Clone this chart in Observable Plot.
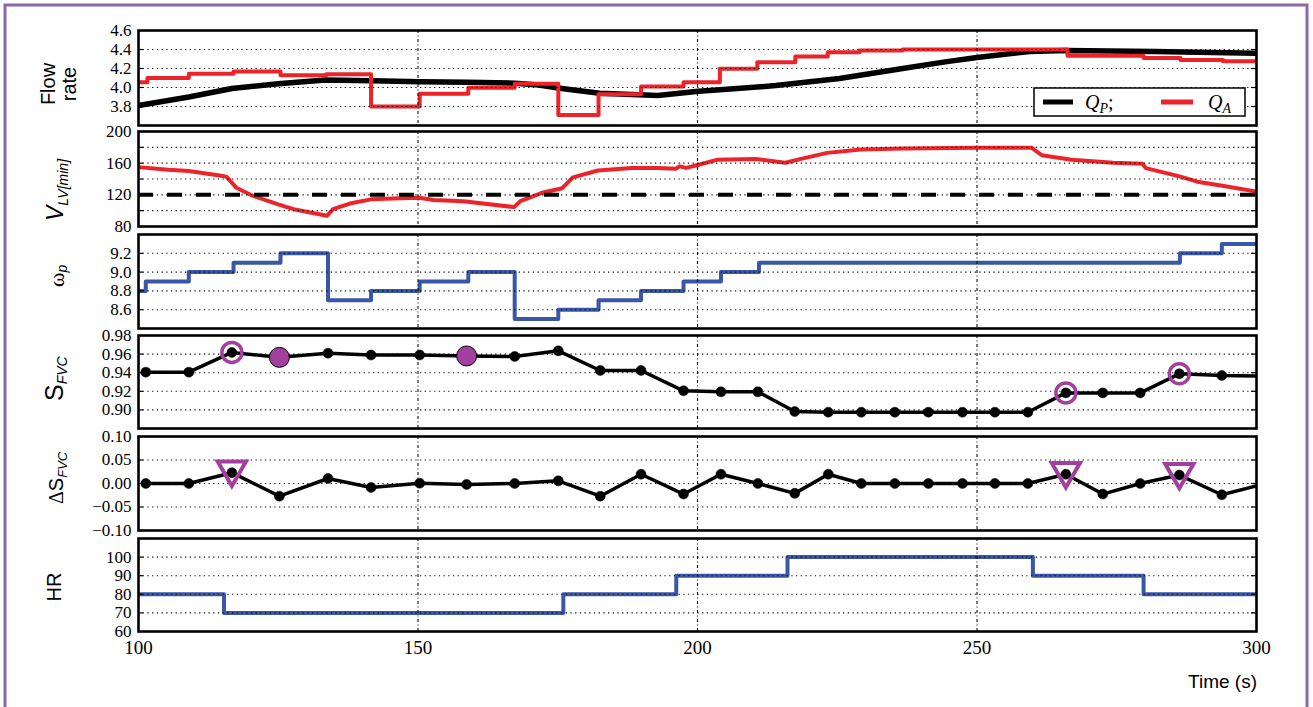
<!DOCTYPE html>
<html><head><meta charset="utf-8">
<script src="https://cdn.jsdelivr.net/npm/d3@7"></script>
<script src="https://cdn.jsdelivr.net/npm/@observablehq/plot@0.6"></script>
<style>
html,body{margin:0;padding:0;background:#fff;}
#wrap{position:relative;width:1313px;height:707px;overflow:hidden;background:#fff;}
#wrap svg{position:absolute;left:0;}
</style></head><body><div id="wrap"></div>
<script>
// ---------------- data ----------------
const xTicks = [100, 150, 200, 250, 300];
const xGrid = [150, 200, 250];

// Flow rate: pump flow Q_P (black) and aortic flow Q_A (red, step)
const qpT = [100,109,116.7,125,133.4,141.7,150.4,159,167.3,171,175.7,182.5,192.9,200.2,206.5,214,225.4,236.7,244.3,250,259.4,265.9,281.7,300];
const qpV = [3.81,3.90,3.99,4.04,4.08,4.07,4.06,4.056,4.045,4.03,3.99,3.94,3.916,3.96,3.986,4.02,4.095,4.20,4.27,4.316,4.38,4.39,4.38,4.36];
const qaT = [100,101.6,109,117,125.4,133.6,141.6,150.3,159,167.3,175.1,182.3,189.9,197.5,204,210.7,217.5,223.3,229,236.7,266.2,279.8,286.4,294,300];
const qaV = [4.056,4.10,4.144,4.168,4.13,4.14,3.80,3.933,3.997,4.04,3.71,3.93,4.01,4.056,4.197,4.267,4.326,4.372,4.39,4.40,4.335,4.31,4.29,4.277,4.277];

// V_LV[min]
const vT = [100,105.3,109,114.5,115.7,117.5,120.5,125,128,133.7,134.8,137.8,141.6,146.8,150.2,152.8,158.1,167.2,168.3,172.4,175.8,177.7,182.2,188.2,192.8,196.1,196.8,198,200.2,203.6,210.4,215.7,218.7,223.2,229.2,236.8,250,259.8,261.6,266.9,274.4,279.6,280.2,286.4,289.4,293.9,300];
const vV = [155,151.6,150,144.3,143,129,118.6,107.9,101.4,93.5,102,109,114.3,115.6,116.4,113.4,112,104.5,112,123,128.4,142,150.7,154,154,152.9,156,154,158,164.4,165.3,160.6,165.7,173,177.3,178.6,179.4,179.4,170,164.4,160.6,159.3,153.7,143,136.6,131.4,124.1];
const vRef = [120];

// omega_p (step)
const wT = [100,101.3,109,117,125.4,133.9,141.6,150.3,159,167.3,175.1,182.3,189.9,197.5,204.2,211,286.3,293.8,300];
const wV = [8.8,8.9,9.0,9.1,9.2,8.7,8.8,8.9,9.0,8.5,8.6,8.7,8.8,8.9,9.0,9.1,9.2,9.3,9.3];

// S_FVC and delta S_FVC (sample times)
const sT = [101.3,109,116.7,125.2,133.9,141.6,150.3,158.7,167.3,175.1,182.6,189.9,197.5,204.2,210.8,217.4,223.4,229.3,235.3,241.3,247.4,253.2,259.1,265.9,272.5,279.2,286.2,293.8];
const sV = [0.9406,0.9406,0.9618,0.9565,0.961,0.959,0.959,0.958,0.9575,0.9635,0.9424,0.9424,0.9205,0.9194,0.9194,0.8982,0.8975,0.8975,0.8975,0.8975,0.8975,0.8975,0.8975,0.9183,0.9183,0.9183,0.9388,0.937];
const sEnd = {t: 300, v: 0.9364};
const dV = [0,0,0.023,-0.027,0.0106,-0.0085,0.0007,-0.002,0,0.0056,-0.027,0.0197,-0.0225,0.0197,0,-0.021,0.0197,0,0,0,0,0,0,0.0197,-0.0225,0,0.018,-0.024];
const dEnd = {t: 300, v: -0.005};
const ringIdx = [2, 23, 26];      // hollow purple circles / triangles
const filledIdx = [3, 7];         // filled purple circles

// HR (step)
const hrT = [100,115.3,176,196.2,216.1,260,279.8,300];
const hrV = [80,70,80,90,100,90,80,80];

// ---------------- build ----------------
const BLUE = "#3a56a6", RED = "#ec2329", PURPLE = "#a2409f";
const W = 1313, ML = 138, MR = 57;
const rows = (T, V) => T.map((t, i) => ({t, v: V[i]}));
const qp = rows(qpT, qpV), qa = rows(qaT, qaV), vl = rows(vT, vV), wp = rows(wT, wV), hr = rows(hrT, hrV);
const sRows = rows(sT, sV), dRows = rows(sT, dV);
const f1 = d3.format(".1f"), f2 = d3.format(".2f"), f0 = d3.format("d");

const wrap = document.getElementById("wrap");

function panel(o) {
  const mt = 14, mb = o.last ? 46 : 10;
  const h = o.bottom - o.top + mt + mb;
  const marks = [
    ...o.under,
    Plot.ruleY(o.grid, {stroke: "#111", strokeWidth: 1.1, strokeDasharray: "1.3,3.4"}),
    Plot.ruleX(xGrid, {stroke: "#111", strokeWidth: 1.1, strokeDasharray: "3,2.5,1,2.5"}),
    Plot.ruleY(o.grid, {x1: 100, x2: 100.9, stroke: "#000", strokeWidth: 1.2}),
    Plot.ruleY(o.grid, {x1: 299.1, x2: 300, stroke: "#000", strokeWidth: 1.2}),
    ...(o.over || []),
    Plot.frame({stroke: "#000", strokeWidth: 2.6}),
    Plot.axisY(o.labels, {tickSize: 0, tickPadding: 7, tickFormat: o.fmt, label: null, fontSize: 17})
  ];
  if (o.last) marks.push(Plot.axisX(xTicks, {tickSize: 0, tickPadding: 9, tickFormat: f0, label: null, fontSize: 19}));
  const svg = Plot.plot({
    width: W, height: h, marginLeft: ML, marginRight: MR, marginTop: mt, marginBottom: mb,
    style: {fontFamily: "'Liberation Serif', serif", fontSize: "17px", background: "transparent", overflow: "visible", color: "#000"},
    x: o.last ? {domain: [100, 300]} : {domain: [100, 300], axis: null},
    y: {domain: o.domain},
    marks
  });
  svg.style.top = (o.top - mt) + "px";
  wrap.appendChild(svg);
}

// 1 Flow rate
panel({top: 30, bottom: 125, domain: [3.6, 4.6], grid: [3.8, 4.0, 4.2, 4.4], labels: [3.8, 4.0, 4.2, 4.4, 4.6], fmt: f1,
  under: [
    Plot.line(qp, {x: "t", y: "v", stroke: "#000", strokeWidth: 5.5, clip: true}),
    Plot.line(qa, {x: "t", y: "v", stroke: RED, strokeWidth: 4, curve: "step-after", clip: true})
  ]});
// 2 V_LV
panel({top: 131, bottom: 226, domain: [80, 200], grid: [100, 120, 140, 160, 180], labels: [80, 120, 160, 200], fmt: f0,
  under: [Plot.line(vl, {x: "t", y: "v", stroke: RED, strokeWidth: 4, clip: true})],
  over: [Plot.ruleY(vRef, {stroke: "#000", strokeWidth: 4, strokeDasharray: "15,14"})]});
// 3 omega_p
panel({top: 234, bottom: 328, domain: [8.4, 9.4], grid: [8.6, 8.8, 9.0, 9.2], labels: [8.6, 8.8, 9.0, 9.2], fmt: f1,
  under: [Plot.line(wp, {x: "t", y: "v", stroke: BLUE, strokeWidth: 4, curve: "step-after", clip: true})]});
// 4 S_FVC
panel({top: 335, bottom: 428, domain: [0.88, 0.98], grid: [0.90, 0.92, 0.94, 0.96], labels: [0.90, 0.92, 0.94, 0.96, 0.98], fmt: f2,
  under: [Plot.line([...sRows, sEnd], {x: "t", y: "v", stroke: "#000", strokeWidth: 3.5, clip: true})],
  over: [
    Plot.dot(ringIdx.map(i => sRows[i]), {x: "t", y: "v", r: 10, stroke: PURPLE, strokeWidth: 3.5, fill: "none"}),
    Plot.dot(sRows, {x: "t", y: "v", r: 5, fill: "#000", stroke: "#000", strokeWidth: 0.5}),
    Plot.dot(filledIdx.map(i => sRows[i]), {x: "t", y: "v", r: 10, fill: PURPLE, stroke: "#000", strokeWidth: 1})
  ]});
// 5 delta S_FVC
panel({top: 436, bottom: 530, domain: [-0.1, 0.1], grid: [-0.05, 0, 0.05], labels: [-0.10, -0.05, 0, 0.05, 0.10], fmt: f2,
  under: [Plot.line([...dRows, dEnd], {x: "t", y: "v", stroke: "#000", strokeWidth: 3.5, clip: true})],
  over: [
    Plot.dot(dRows, {x: "t", y: "v", r: 5, fill: "#000", stroke: "#000", strokeWidth: 0.5}),
    Plot.dot(ringIdx.map(i => dRows[i]), {x: "t", y: "v", r: 10.5, symbol: "triangle", rotate: 180, dy: -3, stroke: PURPLE, strokeWidth: 4, fill: "none"})
  ]});
// 6 HR
panel({top: 538, bottom: 631, domain: [60, 110], grid: [70, 80, 90, 100], labels: [60, 70, 80, 90, 100], fmt: f0, last: true,
  under: [Plot.line(hr, {x: "t", y: "v", stroke: BLUE, strokeWidth: 4, curve: "step-after", clip: true})]});

// ---------------- overlay: frame, axis titles, legend ----------------
const ov = d3.select(wrap).append("svg").attr("width", W).attr("height", 707).style("top", "0px").style("pointer-events", "none");
ov.append("rect").attr("x", 5).attr("y", 5).attr("width", 1302).attr("height", 740)
  .attr("fill", "none").attr("stroke", "#8b68ad").attr("stroke-width", 3);

const SANS = "'Liberation Sans', Arial, sans-serif", SERIF = "'Liberation Serif', serif";
function vlabel(x, y, anchor, parts) {
  const t = ov.append("text").attr("transform", `translate(${x},${y}) rotate(-90)`).attr("text-anchor", anchor).attr("fill", "#000");
  parts.forEach(p => {
    const s = t.append("tspan").text(p.text).attr("font-family", p.family || SANS).attr("font-size", p.size || 20);
    if (p.italic) s.attr("font-style", "italic");
    if (p.dy) s.attr("dy", p.dy);
  });
}
vlabel(55, 84, "middle", [{text: "Flow"}]);
vlabel(76, 84, "middle", [{text: "rate"}]);
vlabel(63, 221, "start", [{text: "V", italic: true, size: 23}, {text: "LV[min]", italic: true, size: 14, dy: 5}]);
vlabel(64, 287, "start", [{text: "ω", family: SERIF, size: 22}, {text: "p", italic: true, size: 14, dy: 3}]);
vlabel(63, 401, "start", [{text: "S", size: 25}, {text: "FVC", italic: true, size: 14, dy: 4}]);
vlabel(63, 504, "start", [{text: "Δ", family: SERIF, size: 20}, {text: "S", size: 20}, {text: "FVC", italic: true, size: 13, dy: 4}]);
vlabel(61, 587, "middle", [{text: "HR"}]);

ov.append("text").attr("x", 1257).attr("y", 688).attr("text-anchor", "end")
  .attr("font-family", SANS).attr("font-size", 19).text("Time (s)");

// legend
const lg = ov.append("g");
lg.append("rect").attr("x", 1034).attr("y", 88).attr("width", 211).attr("height", 28).attr("fill", "#fff").attr("stroke", "#000").attr("stroke-width", 1.5);
lg.append("line").attr("x1", 1043).attr("x2", 1073).attr("y1", 102).attr("y2", 102).attr("stroke", "#000").attr("stroke-width", 5);
lg.append("line").attr("x1", 1161).attr("x2", 1193).attr("y1", 102).attr("y2", 102).attr("stroke", RED).attr("stroke-width", 5);
function legText(x, main, sub, tail) {
  const t = lg.append("text").attr("x", x).attr("y", 109).attr("font-family", SERIF).attr("font-size", 20).attr("fill", "#000");
  t.append("tspan").text(main).attr("font-style", "italic");
  t.append("tspan").text(sub).attr("font-style", "italic").attr("font-size", 14).attr("dy", 4);
  if (tail) t.append("tspan").text(tail).attr("dy", -4);
}
legText(1085, "Q", "P", ";");
legText(1208, "Q", "A", null);
</script></body></html>
